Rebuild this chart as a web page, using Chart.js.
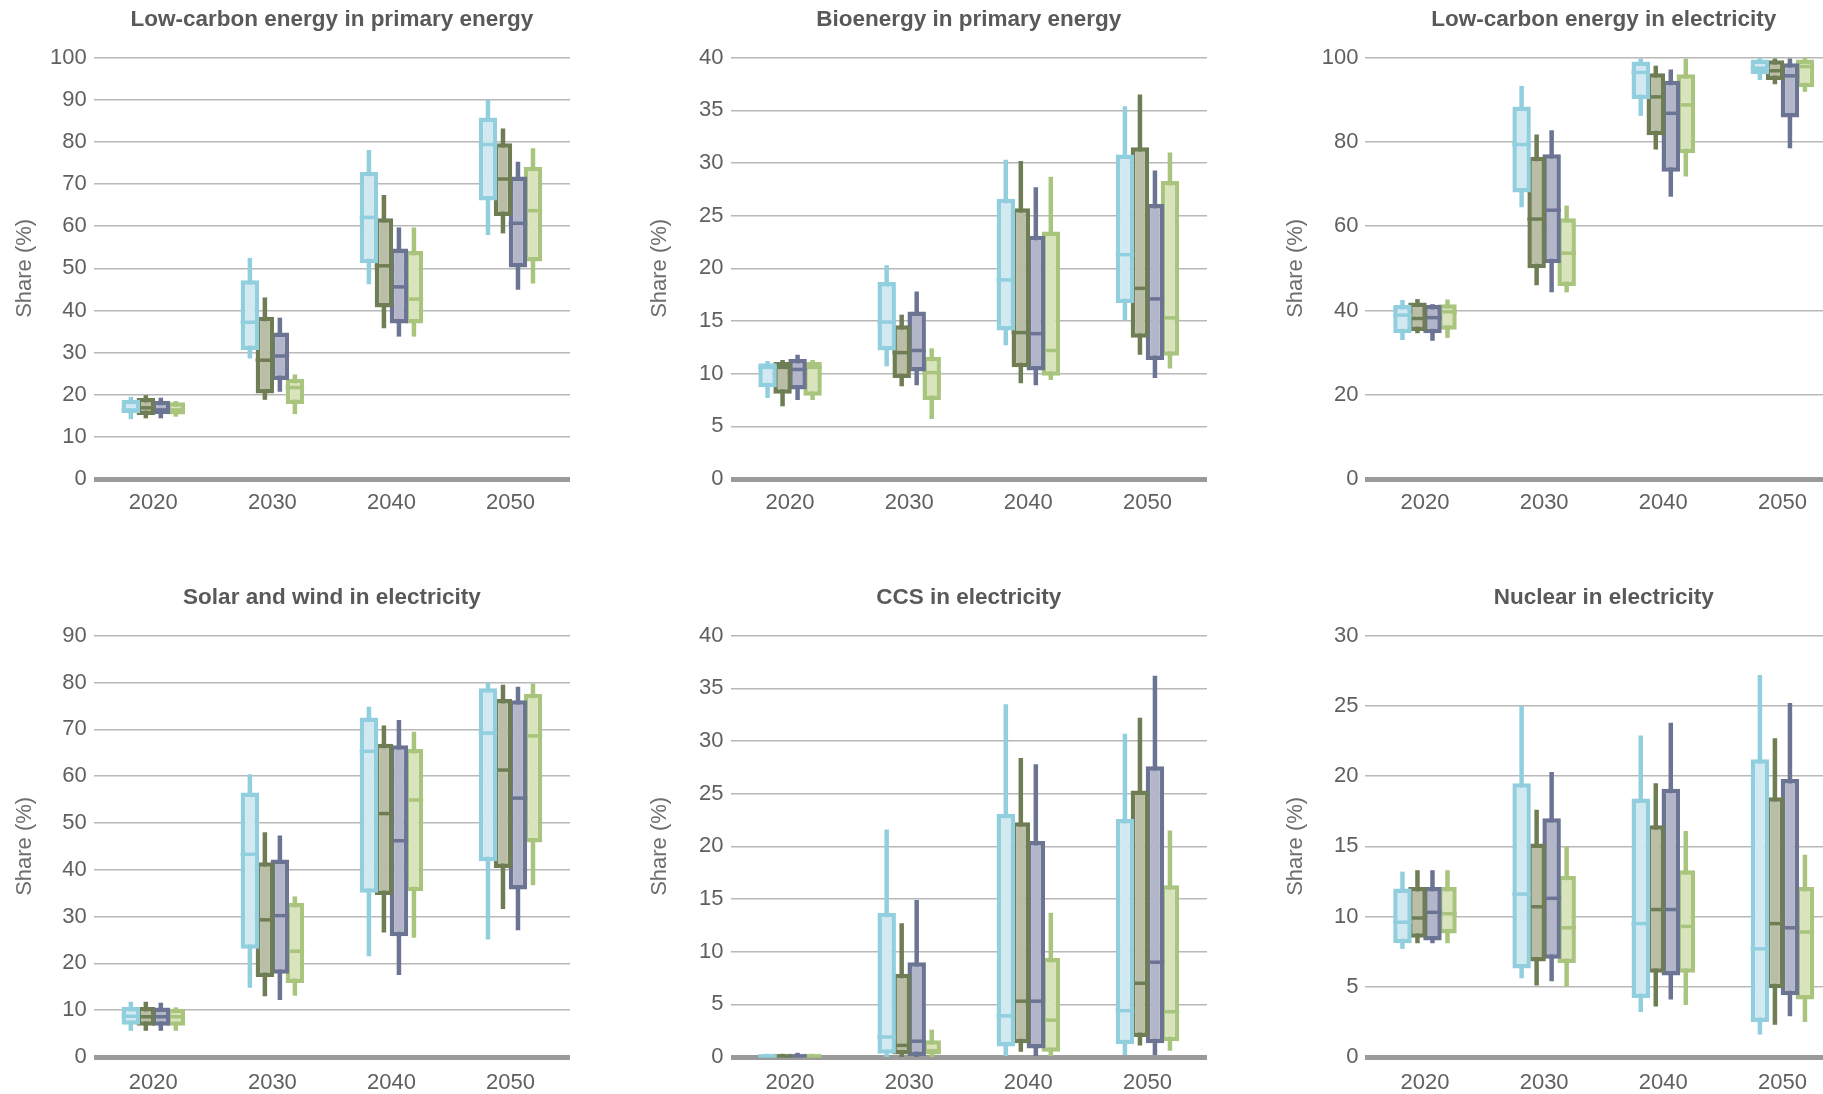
<!DOCTYPE html>
<html>
<head>
<meta charset="utf-8">
<title>Shares by decade</title>
<script src="https://cdn.jsdelivr.net/npm/chart.js@4.4.1/dist/chart.umd.min.js"></script>
<style>
  html, body { margin: 0; padding: 0; background: #fff; }
  body { width: 1823px; height: 1094px; position: relative; overflow: hidden; }
  canvas { position: absolute; }
</style>
</head>
<body>
<canvas id="p1"></canvas>
<canvas id="p2"></canvas>
<canvas id="p3"></canvas>
<canvas id="p4"></canvas>
<canvas id="p5"></canvas>
<canvas id="p6"></canvas>
<script>
const years = ['2020', '2030', '2040', '2050'];
const seriesNames = ['Light blue', 'Olive', 'Slate', 'Light green'];

// every entry is [min, q1, median, q3, max], one per year, one row per series
const lowCarbonPrimary = [
  [[14.2, 15.6, 16.4, 18.8, 19.5], [28.6, 30.6, 37.2, 47.2, 52.5], [46.2, 51.2, 62.1, 72.9, 78.1], [57.9, 66.1, 79.4, 85.8, 90.0]],
  [[14.4, 15.2, 16.9, 19.2, 19.9], [18.8, 20.3, 28.2, 38.5, 43.1], [35.8, 40.7, 50.6, 61.9, 67.4], [58.3, 62.4, 71.2, 79.7, 83.2]],
  [[14.4, 15.4, 16.4, 18.6, 19.3], [20.7, 23.5, 29.2, 34.8, 38.3], [33.8, 36.9, 45.6, 54.7, 59.7], [44.9, 50.2, 60.7, 71.8, 75.3]],
  [[14.8, 15.3, 16.4, 18.2, 18.5], [15.4, 17.8, 21.7, 23.8, 24.8], [33.8, 36.9, 42.7, 54.1, 59.7], [46.4, 51.6, 63.7, 74.1, 78.5]]
];
const bioenergyPrimary = [
  [[7.7, 8.7, 10.6, 11.0, 11.2], [10.7, 12.2, 14.9, 18.7, 20.3], [12.7, 14.1, 18.9, 26.6, 30.3], [15.1, 16.7, 21.3, 30.8, 35.4]],
  [[6.9, 8.1, 10.6, 11.1, 11.3], [8.8, 9.6, 12.0, 14.6, 15.6], [9.1, 10.6, 13.9, 25.7, 30.2], [11.8, 13.4, 18.1, 31.5, 36.5]],
  [[7.5, 8.5, 10.4, 11.4, 11.8], [8.9, 10.2, 12.2, 15.9, 17.8], [8.9, 10.3, 13.8, 23.1, 27.7], [9.6, 11.3, 17.1, 26.1, 29.3]],
  [[7.5, 7.9, 10.6, 11.1, 11.3], [5.7, 7.5, 10.1, 11.6, 12.4], [9.4, 9.8, 12.2, 23.5, 28.7], [10.5, 11.7, 15.3, 28.3, 31.0]]
];
const lowCarbonElectricity = [
  [[33.0, 34.6, 38.9, 41.3, 42.5], [64.5, 68.0, 79.4, 88.4, 93.3], [86.2, 90.2, 96.5, 99.1, 99.8], [94.7, 96.1, 97.5, 99.6, 100]],
  [[34.6, 35.1, 38.1, 41.9, 42.7], [46.0, 50.0, 61.7, 76.5, 81.8], [78.2, 81.6, 90.7, 96.3, 98.1], [93.7, 94.7, 96.9, 99.4, 99.8]],
  [[32.8, 34.6, 38.3, 41.3, 41.5], [44.3, 51.2, 63.8, 77.1, 82.8], [67.0, 72.9, 86.8, 94.5, 97.2], [78.5, 85.8, 95.7, 98.7, 99.8]],
  [[33.5, 35.4, 39.7, 41.5, 42.6], [44.3, 45.8, 53.6, 61.9, 64.9], [71.8, 77.3, 88.8, 96.1, 99.8], [91.9, 93.0, 97.9, 99.6, 100]]
];
const solarWindElectricity = [
  [[5.6, 6.9, 8.7, 10.7, 11.8], [14.8, 23.1, 43.3, 56.5, 60.4], [21.5, 35.1, 65.3, 72.5, 74.8], [25.1, 41.8, 69.2, 78.8, 80.0]],
  [[5.6, 6.7, 8.6, 10.7, 11.8], [13.0, 17.1, 29.3, 41.6, 48.0], [26.6, 34.6, 52.0, 66.9, 70.8], [31.6, 40.4, 61.3, 76.5, 79.5]],
  [[5.6, 6.7, 8.6, 10.6, 11.6], [12.2, 17.8, 30.2, 42.2, 47.3], [17.5, 25.8, 46.2, 66.6, 72.0], [27.1, 35.8, 55.3, 76.2, 79.1]],
  [[5.6, 6.7, 8.6, 10.3, 10.6], [13.1, 15.8, 22.6, 32.9, 34.3], [25.5, 35.4, 54.9, 65.8, 69.5], [36.7, 45.8, 68.6, 77.6, 79.8]]
];
const ccsElectricity = [
  [[0, 0, 0.1, 0.3, 0.3], [0, 0.3, 1.9, 13.7, 21.6], [0.1, 1.0, 3.9, 23.1, 33.5], [0.2, 1.2, 4.4, 22.6, 30.7]],
  [[0, 0, 0.1, 0.3, 0.3], [0, 0, 1.1, 7.9, 12.7], [0.5, 1.3, 5.3, 22.3, 28.4], [1.1, 1.9, 7.0, 25.3, 32.2]],
  [[0, 0, 0.1, 0.3, 0.4], [0, 0.1, 1.5, 9.0, 14.9], [0.1, 0.8, 5.3, 20.5, 27.8], [0.2, 1.3, 9.0, 27.6, 36.2]],
  [[0, 0, 0.1, 0.3, 0.3], [0, 0, 0.6, 1.6, 2.6], [0.1, 0.5, 3.5, 9.4, 13.7], [0.6, 1.5, 4.3, 16.3, 21.5]]
];
const nuclearElectricity = [
  [[7.7, 8.1, 9.6, 12.0, 13.2], [5.6, 6.3, 11.6, 19.5, 25.0], [3.2, 4.2, 9.5, 18.4, 22.9], [1.6, 2.5, 7.7, 21.2, 27.2]],
  [[8.1, 8.5, 9.9, 12.1, 13.3], [5.1, 6.8, 10.7, 15.2, 17.6], [3.6, 6.0, 10.5, 16.5, 19.5], [2.3, 4.9, 9.5, 18.5, 22.7]],
  [[8.1, 8.3, 10.3, 12.1, 13.3], [5.4, 7.0, 11.3, 17.0, 20.3], [4.1, 5.8, 10.5, 19.1, 23.8], [2.9, 4.4, 9.2, 19.8, 25.2]],
  [[8.1, 8.8, 10.2, 12.1, 13.3], [5.0, 6.7, 9.2, 12.9, 15.0], [3.7, 6.0, 9.3, 13.3, 16.1], [2.5, 4.1, 8.9, 12.1, 14.4]]
];

const panels = [
  { id: 'p1', title: 'Low-carbon energy in primary energy', stats: lowCarbonPrimary, yMax: 100, yStep: 10 },
  { id: 'p2', title: 'Bioenergy in primary energy', stats: bioenergyPrimary, yMax: 40, yStep: 5 },
  { id: 'p3', title: 'Low-carbon energy in electricity', stats: lowCarbonElectricity, yMax: 100, yStep: 20 },
  { id: 'p4', title: 'Solar and wind in electricity', stats: solarWindElectricity, yMax: 90, yStep: 10 },
  { id: 'p5', title: 'CCS in electricity', stats: ccsElectricity, yMax: 40, yStep: 5 },
  { id: 'p6', title: 'Nuclear in electricity', stats: nuclearElectricity, yMax: 30, yStep: 5 }
];

// canvas placement; the right column runs past the page edge
const frames = {
  p1: { left: 0,    top: 0,   width: 570, height: 530, yAxisW: 93.8, yTitleX: 25.3, axisH: 51, labelPad: 11 },
  p2: { left: 637,  top: 0,   width: 570, height: 530, yAxisW: 93.5, yTitleX: 22.7, axisH: 51, labelPad: 11 },
  p3: { left: 1272, top: 0,   width: 570, height: 530, yAxisW: 93.4, yTitleX: 24.2, axisH: 51, labelPad: 11 },
  p4: { left: 0,    top: 578, width: 570, height: 516, yAxisW: 93.8, yTitleX: 25.3, axisH: 37, labelPad: 12.5 },
  p5: { left: 637,  top: 578, width: 570, height: 516, yAxisW: 93.5, yTitleX: 22.7, axisH: 37, labelPad: 12.5 },
  p6: { left: 1272, top: 578, width: 570, height: 516, yAxisW: 93.4, yTitleX: 24.2, axisH: 37, labelPad: 12.5 }
};

const lineColors = ['#92cfde', '#6f7d55', '#6c7494', '#a9c47d'];
const fillColors = ['#d3e9f1', '#babea7', '#b3b6c9', '#d9e4bc'];
const FONT = "'Liberation Sans', Arial, sans-serif";
const TICK_SIZE = 22;
const YTITLE_SIZE = 22;
const EDGE = 4.5;

// whiskers go under each box, the median line on top of it
const boxWhiskers = {
  id: 'boxWhiskers',
  beforeDatasetDraw(chart, args) {
    const ds = chart.data.datasets[args.index];
    const y = chart.scales.y;
    const ctx = chart.ctx;
    ctx.save();
    ctx.strokeStyle = ds.borderColor;
    ctx.lineWidth = EDGE;
    args.meta.data.forEach((bar, j) => {
      const s = ds.stats[j];
      ctx.beginPath();
      ctx.moveTo(bar.x, y.getPixelForValue(s[4]));
      ctx.lineTo(bar.x, y.getPixelForValue(s[0]));
      ctx.stroke();
    });
    ctx.restore();
  },
  afterDatasetDraw(chart, args) {
    const ds = chart.data.datasets[args.index];
    const y = chart.scales.y;
    const ctx = chart.ctx;
    ctx.save();
    ctx.strokeStyle = ds.borderColor;
    ctx.lineWidth = 3.5;
    args.meta.data.forEach((bar, j) => {
      const ym = y.getPixelForValue(ds.stats[j][2]);
      ctx.beginPath();
      ctx.moveTo(bar.x - bar.width / 2, ym);
      ctx.lineTo(bar.x + bar.width / 2, ym);
      ctx.stroke();
    });
    ctx.restore();
  }
};

function buildPanel(panel) {
  const f = frames[panel.id];
  const canvas = document.getElementById(panel.id);
  canvas.width = f.width;
  canvas.height = f.height;
  canvas.style.left = f.left + 'px';
  canvas.style.top = f.top + 'px';

  const datasets = panel.stats.map((series, i) => ({
    label: seriesNames[i],
    data: series.map(s => [s[1], s[3]]),
    stats: series,
    backgroundColor: fillColors[i],
    borderColor: lineColors[i],
    borderWidth: EDGE,
    borderSkipped: false,
    categoryPercentage: 0.504,
    barPercentage: 1.23
  }));

  new Chart(canvas, {
    type: 'bar',
    data: { labels: years, datasets },
    plugins: [boxWhiskers],
    options: {
      responsive: false,
      animation: false,
      events: [],
      layout: { padding: 0 },
      plugins: {
        legend: { display: false },
        tooltip: { enabled: false },
        title: {
          display: true,
          text: panel.title,
          fullSize: false,
          color: '#58595b',
          font: { family: FONT, size: 22.5, weight: 'bold' },
          padding: { top: 5.8, bottom: 24.9 }
        }
      },
      scales: {
        x: {
          grid: { display: false, drawTicks: false },
          border: { display: false },
          afterFit: axis => { axis.height = f.axisH; },
          ticks: {
            color: '#606060',
            font: { family: FONT, size: TICK_SIZE },
            padding: f.labelPad,
            maxRotation: 0,
            autoSkip: false
          }
        },
        y: {
          min: 0,
          max: panel.yMax,
          border: { display: false },
          afterFit: axis => { axis.width = f.yAxisW; },
          grid: {
            drawTicks: false,
            color: c => (c.tick && c.tick.value === 0 ? '#9a9a9a' : '#b8b8b8'),
            lineWidth: c => (c.tick && c.tick.value === 0 ? 5 : 1.5)
          },
          ticks: {
            stepSize: panel.yStep,
            color: '#606060',
            font: { family: FONT, size: TICK_SIZE },
            padding: 7
          },
          title: {
            display: true,
            text: 'Share (%)',
            color: '#6d6e71',
            font: { family: FONT, size: YTITLE_SIZE },
            padding: { top: f.yTitleX - YTITLE_SIZE * 0.6, bottom: 0 }
          }
        }
      }
    }
  });
}

panels.forEach(buildPanel);
</script>
</body>
</html>
